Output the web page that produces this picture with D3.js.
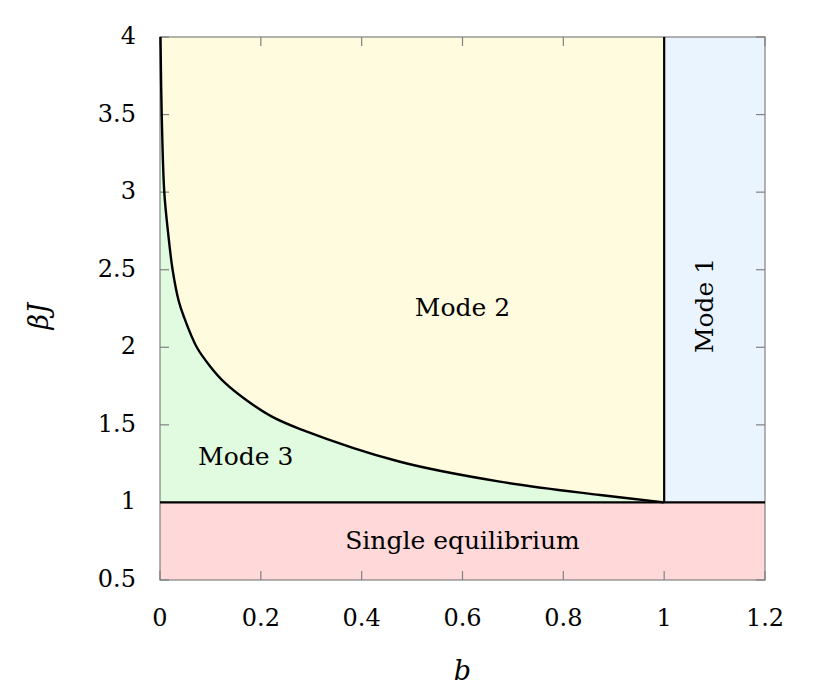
<!DOCTYPE html>
<html>
<head>
<meta charset="utf-8">
<script src="https://cdn.jsdelivr.net/npm/d3@7"></script>
<style>
  body { margin: 0; background: #fff; }
  text { font-family: "DejaVu Serif", serif; fill: #000; }
</style>
</head>
<body>
<script>
// boundary curve between Mode 2 and Mode 3
let curveB  = [0.001, 0.002, 0.0034, 0.0085, 0.016, 0.025, 0.037, 0.047, 0.073, 0.1, 0.129, 0.171, 0.222, 0.278, 0.476, 0.674, 0.873, 1]
let curveBJ = [4, 3.75, 3.5, 3, 2.74, 2.5, 2.3, 2.2, 2, 1.875, 1.77, 1.66, 1.553, 1.473, 1.262, 1.134, 1.048, 1]

let xTicks = [0, 0.2, 0.4, 0.6, 0.8, 1, 1.2]
let yTicks = [0.5, 1, 1.5, 2, 2.5, 3, 3.5, 4]

let regionNames = ['Mode 1', 'Mode 2', 'Mode 3', 'Single equilibrium']
let regionColors = ['#eaf4fe', '#fffbdf', '#e0fbdf', '#ffd9d9']

let margin = { top: 37, right: 66, bottom: 120, left: 160 }
let width = 831 - margin.left - margin.right
let height = 700 - margin.top - margin.bottom

let x = d3.scaleLinear().domain([0, 1.2]).range([0, width])
let y = d3.scaleLinear().domain([0.5, 4]).range([height, 0])

let pts = curveB.map((b, i) => [b, curveBJ[i]])

let svg = d3.select('body')
    .append('svg')
    .attr('width', 831)
    .attr('height', 700)

let g = svg.append('g')
    .attr('transform', 'translate(' + margin.left + ',' + margin.top + ')')

let line = d3.line()
    .x(d => x(d[0]))
    .y(d => y(d[1]))
    .curve(d3.curveCatmullRom.alpha(0.5))

// regions
g.append('rect')
    .attr('x', x(0)).attr('y', y(1))
    .attr('width', x(1.2) - x(0)).attr('height', y(0.5) - y(1))
    .attr('fill', regionColors[3])
g.append('rect')
    .attr('x', x(1)).attr('y', y(4))
    .attr('width', x(1.2) - x(1)).attr('height', y(1) - y(4))
    .attr('fill', regionColors[0])
g.append('rect')
    .attr('x', x(0)).attr('y', y(4))
    .attr('width', x(1) - x(0)).attr('height', y(1) - y(4))
    .attr('fill', regionColors[1])
g.append('path')
    .attr('d', line(pts) + 'L' + x(0) + ',' + y(1) + 'L' + x(0) + ',' + y(4) + 'Z')
    .attr('fill', regionColors[2])

// frame with inward ticks on all sides
let frame = g.append('g').attr('stroke', '#808080').attr('stroke-width', 1.2).attr('fill', 'none')
frame.append('rect').attr('x', 0).attr('y', 0).attr('width', width).attr('height', height)
xTicks.forEach(t => {
    frame.append('line').attr('x1', x(t)).attr('x2', x(t)).attr('y1', height).attr('y2', height - 9)
    frame.append('line').attr('x1', x(t)).attr('x2', x(t)).attr('y1', 0).attr('y2', 9)
})
yTicks.forEach(t => {
    frame.append('line').attr('y1', y(t)).attr('y2', y(t)).attr('x1', 0).attr('x2', 9)
    frame.append('line').attr('y1', y(t)).attr('y2', y(t)).attr('x1', width).attr('x2', width - 9)
})

// boundaries
g.append('path')
    .attr('d', line(pts))
    .attr('fill', 'none').attr('stroke', '#000').attr('stroke-width', 2.4)
g.append('line')
    .attr('x1', x(1)).attr('x2', x(1)).attr('y1', y(1)).attr('y2', y(4))
    .attr('stroke', '#000').attr('stroke-width', 2.2)
g.append('line')
    .attr('x1', x(0)).attr('x2', x(1.2)).attr('y1', y(1)).attr('y2', y(1))
    .attr('stroke', '#000').attr('stroke-width', 2.2)

// tick labels
g.selectAll('.xl').data(xTicks).enter().append('text')
    .attr('x', d => x(d)).attr('y', height + 46)
    .attr('text-anchor', 'middle').attr('font-size', 24)
    .text(d => d)
g.selectAll('.yl').data(yTicks).enter().append('text')
    .attr('x', -24).attr('y', d => y(d) + 7)
    .attr('text-anchor', 'end').attr('font-size', 24)
    .text(d => d)

// region labels
g.append('text').attr('x', x(0.6)).attr('y', y(2.2)).attr('text-anchor', 'middle')
    .attr('font-size', 25).text(regionNames[1])
g.append('text').attr('x', x(0.17)).attr('y', y(1.26) + 3).attr('text-anchor', 'middle')
    .attr('font-size', 25).text(regionNames[2])
g.append('text').attr('x', x(0.6)).attr('y', y(0.71) + 2).attr('text-anchor', 'middle')
    .attr('font-size', 25).text(regionNames[3])
g.append('text')
    .attr('transform', 'translate(' + (x(1.1) - 2) + ',' + y(2.27) + ') rotate(-90)')
    .attr('text-anchor', 'middle').attr('font-size', 25).text(regionNames[0])

// axis titles
svg.append('text')
    .attr('x', margin.left + x(0.6)).attr('y', 680)
    .attr('text-anchor', 'middle').attr('font-size', 27).attr('font-style', 'italic')
    .text('b')
svg.append('text')
    .attr('transform', 'translate(48,' + (margin.top + y(2.2)) + ') rotate(-90)')
    .attr('text-anchor', 'middle').attr('font-size', 27).attr('font-style', 'italic')
    .text('βJ')
</script>
</body>
</html>
